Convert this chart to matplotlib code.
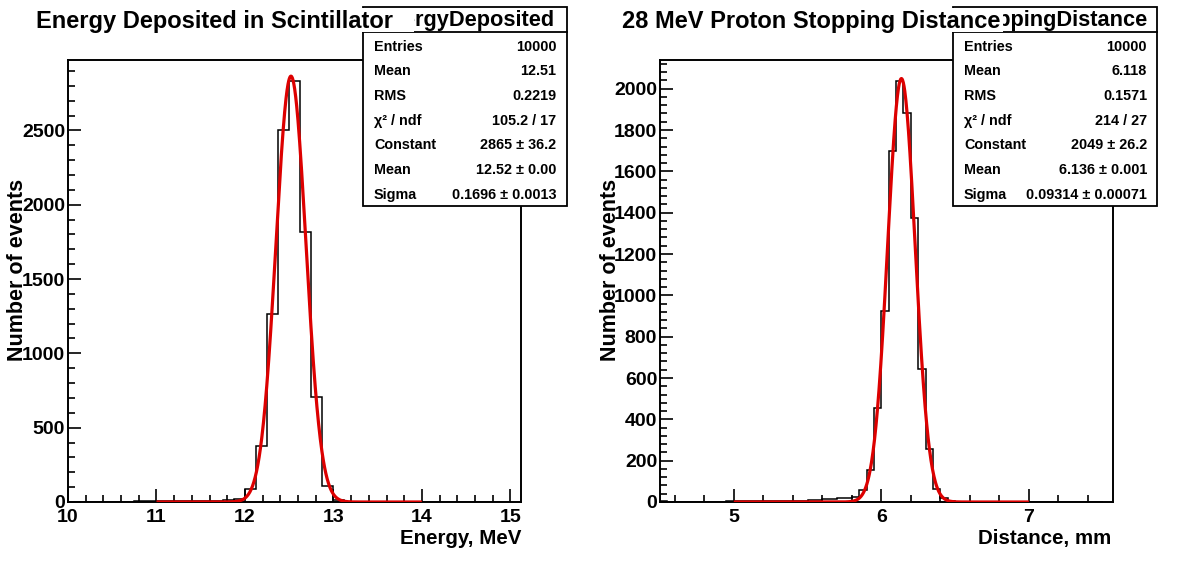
import numpy as np
import matplotlib
matplotlib.use("Agg")
import matplotlib.pyplot as plt
from matplotlib.ticker import MultipleLocator, FuncFormatter
from matplotlib.patches import Rectangle

plt.rcParams['font.family'] = ['Liberation Sans', 'DejaVu Sans']
plt.rcParams['font.weight'] = 'bold'

# ---------------- data ----------------
energy_bin_start = 10.0
energy_bin_width = 0.125
energy_counts = [2, 1, 2, 3, 2, 3, 4, 4,
                 5, 6, 7, 8, 9, 10, 14,
                 22, 88, 380, 1265, 2500, 2832, 1815, 708, 110, 12, 2,
                 0, 0, 0, 0, 0, 0, 0, 0, 0, 0, 0, 0, 0, 0]
energy_fit = (2865.0, 12.52, 0.1696)      # constant, mean, sigma
energy_fit_range = (11.0, 14.0)
energy_xlim = (10.0, 15.12)

distance_bin_start = 4.5
distance_bin_width = 0.05
distance_counts = [3, 2, 2, 1, 2, 2, 1, 2, 2, 3,
                   3, 3, 4, 3, 4, 4, 5, 5, 6, 6,
                   8, 9, 13, 14, 18, 17,
                   22, 58, 153, 455, 923, 1699, 2037, 1880, 1373, 642, 255, 65, 20, 5, 1,
                   0, 0, 0, 0, 0, 0, 0, 0, 0, 0, 0, 0, 0, 0, 0, 0, 0, 0, 0]
distance_fit = (2049.0, 6.136, 0.09314)
distance_fit_range = (5.0, 7.0)
distance_xlim = (4.5, 7.57)

stats_labels = ["Entries", "Mean", "RMS", "\u03c7\u00b2 / ndf", "Constant", "Mean", "Sigma"]
energy_stats = ["10000", "12.51", "0.2219", "105.2 / 17", "2865 \u00b1 36.2",
                "12.52 \u00b1 0.00", "0.1696 \u00b1 0.0013"]
distance_stats = ["10000", "6.118", "0.1571", "214 / 27", "2049 \u00b1 26.2",
                  "6.136 \u00b1 0.001", "0.09314 \u00b1 0.00071"]

energy_title = "Energy Deposited in Scintillator"
distance_title = "28 MeV Proton Stopping Distance"
energy_hist_name = "EnergyDeposited"
distance_hist_name = "StoppingDistance"
energy_xlabel = "Energy, MeV"
distance_xlabel = "Distance, mm"
ylabel = "Number of events"

# ---------------- figure ----------------
W, H = 1181, 564
fig = plt.figure(figsize=(W / 100, H / 100), dpi=100)
fig.patch.set_facecolor('white')


def px_axes(x0, y0, x1, y1):
    return fig.add_axes([x0 / W, 1 - y1 / H, (x1 - x0) / W, (y1 - y0) / H])


def draw_panel(ax, start, width, counts, fit, fit_range, xlim, ymajor, yminor):
    counts = np.asarray(counts, dtype=float)
    edges = start + width * np.arange(len(counts) + 1)
    ax.stairs(counts, edges, color='black', lw=1.1, zorder=2)
    c, m, s = fit
    xf = np.linspace(fit_range[0], fit_range[1], 800)
    ax.plot(xf, c * np.exp(-0.5 * ((xf - m) / s) ** 2), color='#dd0000', lw=2.3, zorder=3,
            solid_capstyle='butt')
    ax.set_xlim(*xlim)
    ax.set_ylim(0, counts.max() * 1.05)
    ax.xaxis.set_major_locator(MultipleLocator(1))
    ax.xaxis.set_minor_locator(MultipleLocator(0.2))
    ax.yaxis.set_major_locator(MultipleLocator(ymajor))
    ax.yaxis.set_minor_locator(MultipleLocator(yminor))
    fmt = FuncFormatter(lambda v, p: f"{v:g}")
    ax.xaxis.set_major_formatter(fmt)
    ax.yaxis.set_major_formatter(fmt)
    ax.tick_params(which='both', direction='in', top=False, right=False, width=1.2,
                   labelsize=14)
    ax.tick_params(axis='x', which='major', length=9.5, pad=5)
    ax.tick_params(axis='x', which='minor', length=4.7)
    ax.tick_params(axis='y', which='major', length=9.5, pad=2)
    ax.tick_params(axis='y', which='minor', length=4.7)
    for lab in ax.get_xticklabels() + ax.get_yticklabels():
        lab.set_fontweight('bold')
    for sp in ax.spines.values():
        sp.set_linewidth(1.4)


ax1 = px_axes(68, 60, 521, 502)
draw_panel(ax1, energy_bin_start, energy_bin_width, energy_counts, energy_fit,
           energy_fit_range, energy_xlim, 500, 100)
ax2 = px_axes(660, 60, 1113, 502)
draw_panel(ax2, distance_bin_start, distance_bin_width, distance_counts, distance_fit,
           distance_fit_range, distance_xlim, 200, 40)

# overlay in pixel coordinates
ov = fig.add_axes([0, 0, 1, 1], zorder=10)
ov.set_xlim(0, W)
ov.set_ylim(H, 0)
ov.axis('off')


def stats_box(x0, x1, name, values):
    y0, y1 = 7, 206
    ov.add_patch(Rectangle((x0, y0), x1 - x0, y1 - y0, fc='white', ec='black', lw=1.3, zorder=1))
    ov.plot([x0, x1], [32.3, 32.3], color='black', lw=1.3, zorder=1.5)
    ov.text((x0 + x1) / 2, 26, name, ha='center', va='baseline', fontsize=15.7,
            fontweight='bold', zorder=1.6)
    for i, (lab, val) in enumerate(zip(stats_labels, values)):
        yb = 50.8 + i * 24.65
        ov.text(x0 + 10.7, yb, lab, ha='left', va='baseline', fontsize=10.4,
                fontweight='bold', zorder=2)
        ov.text(x1 - 10.3, yb, val, ha='right', va='baseline', fontsize=10.4,
                fontweight='bold', zorder=2)


def title_box(x0, x1, tx, text):
    ov.add_patch(Rectangle((x0, 8.2), x1 - x0, 23.3, fc='white', ec='none', zorder=3))
    ov.text(tx, 28.3, text, ha='left', va='baseline', fontsize=17, fontweight='bold', zorder=4)


stats_box(363.3, 566.7, energy_hist_name, energy_stats)
title_box(15, 414, 36, energy_title)
stats_box(953.3, 1157.3, distance_hist_name, distance_stats)
title_box(607, 1003, 622, distance_title)

ov.text(521.7, 544, energy_xlabel, ha='right', va='baseline', fontsize=14.8, fontweight='bold')
ov.text(1111.7, 544, distance_xlabel, ha='right', va='baseline', fontsize=14.8, fontweight='bold')
ov.text(18, 270, ylabel, ha='center', va='center', rotation=90, fontsize=15.5, fontweight='bold')
ov.text(610, 270, ylabel, ha='center', va='center', rotation=90, fontsize=15.5, fontweight='bold')

fig.savefig("out.png", dpi=100)
